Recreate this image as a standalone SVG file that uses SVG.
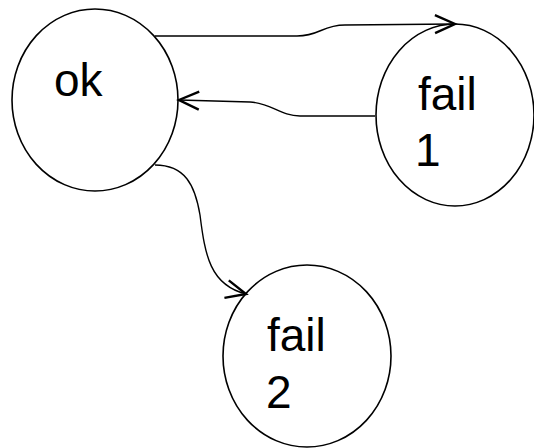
<svg xmlns="http://www.w3.org/2000/svg" width="534" height="448" viewBox="0 0 534 448">
  <defs>
    <style>
      .node ellipse { fill: #ffffff; stroke: #000000; stroke-width: 1.6; }
      .node text { font-family: "Liberation Sans", Arial, sans-serif; font-size: 46px; fill: #000000; }
      .edge { fill: none; stroke: #000000; stroke-width: 1.4; }
    </style>
    <marker id="arrow" markerUnits="userSpaceOnUse" markerWidth="30" markerHeight="30" viewBox="-25 -15 30 30" refX="0" refY="0" orient="auto">
      <path d="M-20,-9 L0,0 L-20,9" fill="none" stroke="#000000" stroke-width="2.4" stroke-linejoin="miter"/>
    </marker>
  </defs>
  <rect width="534" height="448" fill="#ffffff"/>
  <g id="node-ok" class="node">
    <ellipse cx="95" cy="100" rx="83" ry="91"/>
    <text x="54" y="96">ok</text>
  </g>
  <g id="node-fail1" class="node">
    <ellipse cx="455" cy="115" rx="79" ry="91"/>
    <text x="418" y="110">fail</text>
    <text x="415" y="166">1</text>
  </g>
  <g id="node-fail2" class="node">
    <ellipse cx="307" cy="356" rx="84" ry="91"/>
    <text x="267" y="351">fail</text>
    <text x="266" y="408">2</text>
  </g>
  <g id="connectors">
    <path class="edge" d="M155,36 L297,36 C320,36 322,25 345,25 L455,24" marker-end="url(#arrow)"/>
    <path class="edge" d="M375,116 L300,116 C280,116 272,103 250,102 L179,100" marker-end="url(#arrow)"/>
    <path class="edge" d="M155,165 C185,165 195,185 200,215 C205,255 210,285 246,294" marker-end="url(#arrow)"/>
  </g>
</svg>
